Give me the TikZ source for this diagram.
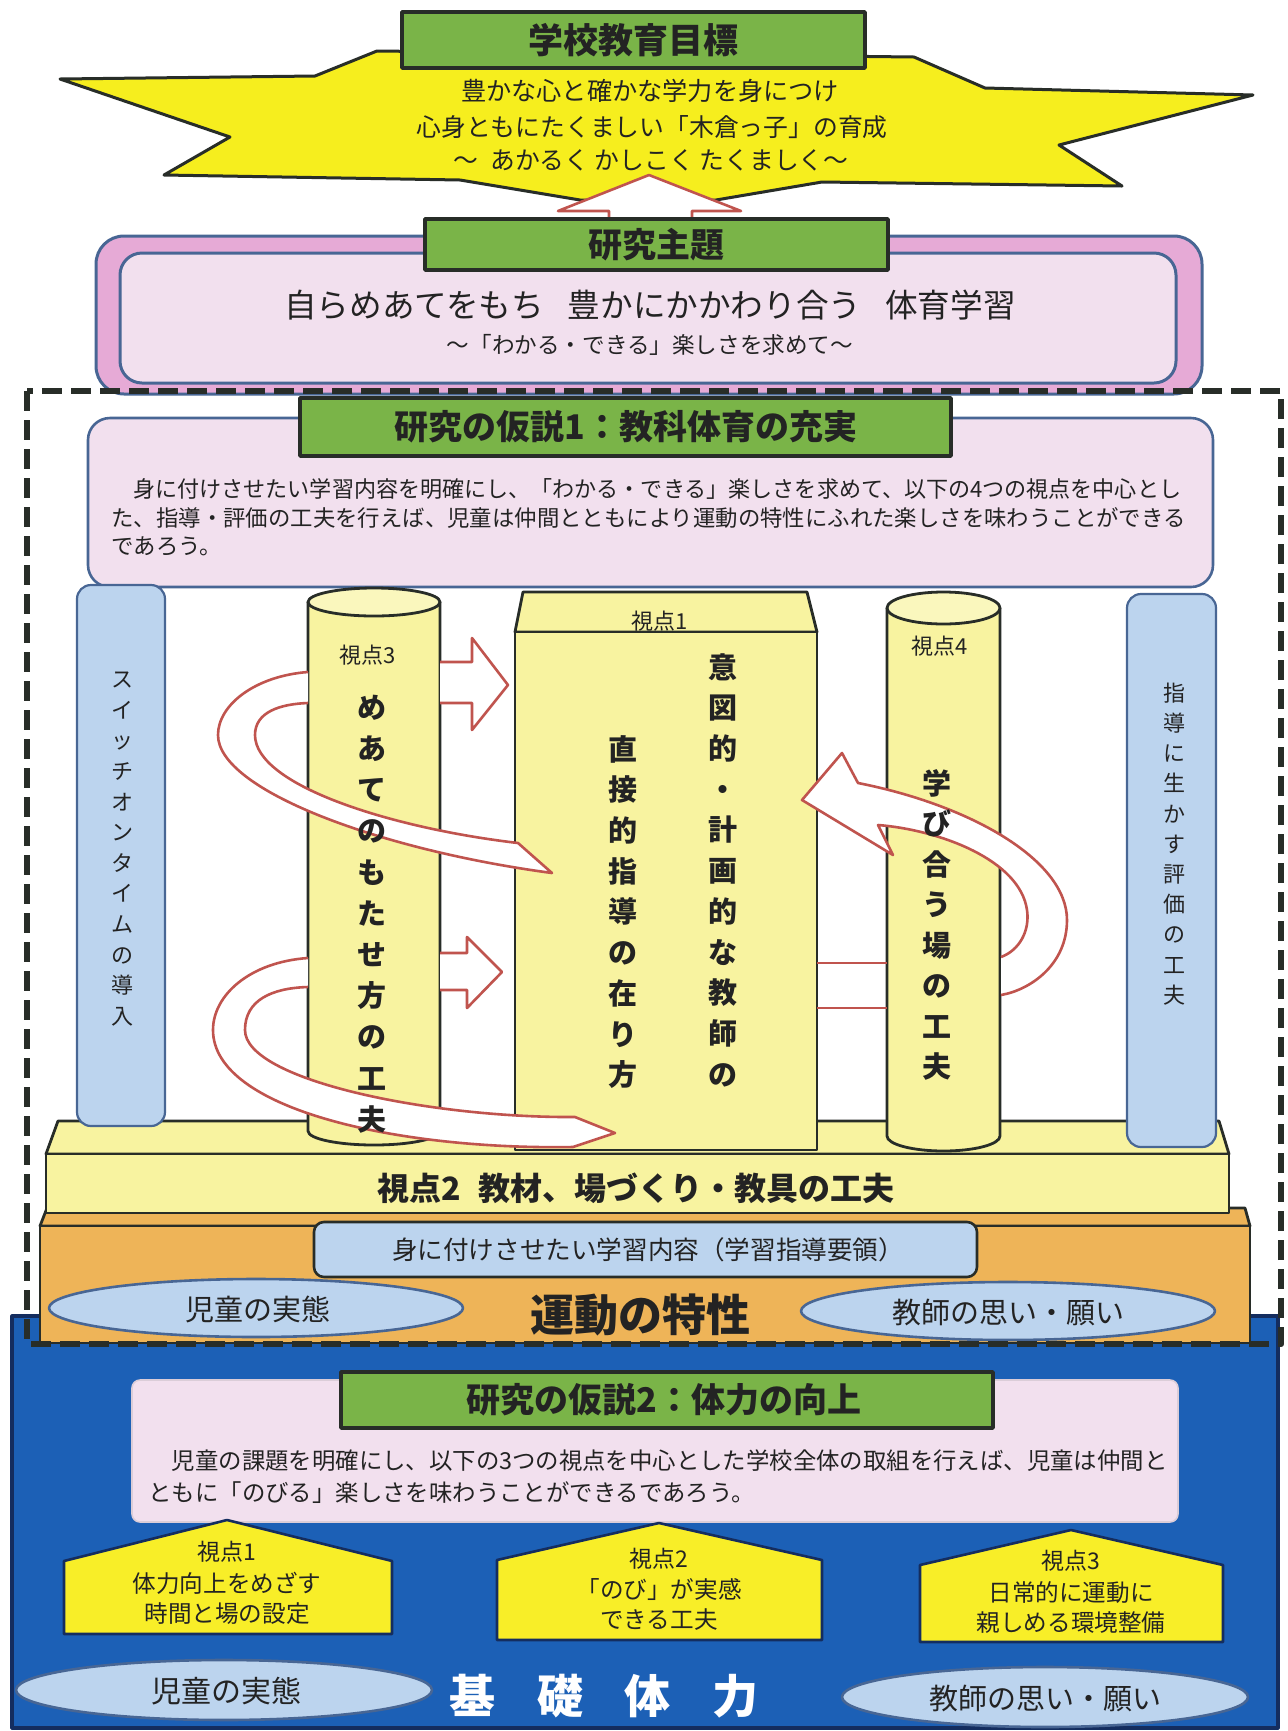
\documentclass[tikz,border=0pt]{standalone}
\usepackage{graphicx}
\usepackage{fontspec}
\setmainfont{Noto Sans CJK JP}
\definecolor{grn}{RGB}{122,180,72}
\definecolor{ylw}{RGB}{246,238,30}
\definecolor{lyl}{RGB}{248,243,160}
\definecolor{pnk}{RGB}{230,170,214}
\definecolor{lpk}{RGB}{242,224,238}
\definecolor{bgr}{RGB}{72,102,148}
\definecolor{lbl}{RGB}{188,212,238}
\definecolor{org}{RGB}{238,180,88}
\definecolor{blu}{RGB}{28,96,182}
\definecolor{nav}{RGB}{20,45,95}
\definecolor{arr}{RGB}{192,84,78}
\definecolor{dk}{RGB}{40,45,40}
\definecolor{txt}{RGB}{35,35,35}
\definecolor{hyl}{RGB}{248,238,40}
\newcommand{\fz}[1]{\fontsize{#1pt}{#1pt}\selectfont}
\newcommand{\vfz}[2]{\fontsize{#1pt}{#2pt}\selectfont}
\begin{document}
\begin{tikzpicture}[x=0.5pt,y=-0.5pt,line join=round,
  gbox/.style={fill=grn,draw=dk,line width=1.8pt},
  lbl/.style={text=txt,inner sep=0pt},
  vt/.style={text=txt,inner sep=0pt,align=center},
  solid3d/.style={fill=lyl,draw=dk,line width=1.4pt},
  pillar/.style={fill=lbl,draw=bgr,line width=1.1pt,rounded corners=7pt},
  arrline/.style={draw=arr,line width=1.3pt},
  oval/.style={fill=lbl,draw=bgr,line width=1.3pt},
  house/.style={fill=hyl,draw=nav,line width=1.3pt}]
\useasboundingbox (0,0) rectangle (1287,1731);
\fill[white] (0,0) rectangle (1287,1731);

% ---------- bottom blue base, orange block, slab ----------
\draw[fill=blu,draw=nav,line width=1.6pt] (12,1316) rectangle (1278,1728);
\draw[fill=org,draw=dk,line width=1.4pt] (47,1208) -- (1245,1208) -- (1250,1226) -- (40,1226) -- cycle;
\draw[fill=org,draw=dk,line width=1.4pt] (40,1226) rectangle (1250,1343);
\draw[solid3d] (58,1121) -- (1219,1121) -- (1229,1154) -- (46,1154) -- cycle;
\draw[solid3d] (46,1154) rectangle (1229,1213);

% ---------- theme boxes ----------
\draw[fill=pnk,draw=bgr,line width=1.5pt,rounded corners=14pt] (96,236) rectangle (1202,394);
\draw[fill=lpk,draw=bgr,line width=1.5pt,rounded corners=11pt] (120,253) rectangle (1176,383);

% ---------- star ----------
\draw[fill=ylw,draw=dk,line width=1.5pt] (60,79) -- (315,76) -- (377,51) -- (914,57) -- (985,88) -- (1253,95)
  -- (1059,145) -- (1122,186) -- (822,182) -- (716,200) -- (580,200) -- (460,180) -- (164,175) -- (230,137) -- cycle;
\filldraw[fill=white,arrline] (649,175) -- (741,211) -- (692,211) -- (692,224) -- (609,224) -- (609,211) -- (558,211) -- cycle;
\draw[gbox] (402,12) rectangle (865,68);
\node[lbl,font=\fz{17.5}\bfseries] (goal) at (633,40) {学校教育目標};
\node[lbl,font=\fz{12.6}] (g1) at (650,91) {豊かな心と確かな学力を身につけ};
\node[lbl,font=\fz{12.4}] (g2) at (652,127) {心身ともにたくましい「木倉っ子」の育成};
\node[lbl,font=\fz{12.4}] (g3) at (651,160) {～\hspace{6pt}あかるく かしこく たくましく～};

% ---------- research theme ----------
\draw[gbox] (425,219) rectangle (888,270);
\node[lbl,font=\fz{17}\bfseries] (thm) at (656,245) {研究主題};
\node[lbl,font=\fz{16.3}] (thm1) at (650,305) {自らめあてをもち\hspace{12pt}豊かにかかわり合う\hspace{12pt}体育学習};
\node[lbl,font=\fz{11.3}] (thm2) at (650,345) {～「わかる・できる」楽しさを求めて～};

% ---------- hypothesis 1 box ----------
\draw[fill=lpk,draw=bgr,line width=1.3pt,rounded corners=11pt] (88,418) rectangle (1213,587);

% ---------- pillars ----------
\draw[pillar] (77,585) rectangle (165,1126);
\draw[pillar] (1127,594) rectangle (1216,1147);

% ---------- left cylinder ----------
\fill[lyl] (308,602) -- (308,1131) arc[start angle=180,end angle=0,x radius=66,y radius=14] -- (440,602) -- cycle;
\draw[dk,line width=1.4pt] (308,602) -- (308,1131) arc[start angle=180,end angle=0,x radius=66,y radius=14] -- (440,602);
\draw[fill=lyl!70!white,draw=dk,line width=1.4pt] (374,602) ellipse[x radius=66,y radius=14];

% ---------- central box ----------
\draw[solid3d] (523,592) -- (807,592) -- (817,632) -- (515,632) -- cycle;
\draw[solid3d] (515,632) rectangle (817,1150);

% ---------- right cylinder ----------
\fill[lyl] (887,608) -- (887,1136) arc[start angle=180,end angle=0,x radius=56.5,y radius=15] -- (1000,608) -- cycle;
\draw[dk,line width=1.4pt] (887,608) -- (887,1136) arc[start angle=180,end angle=0,x radius=56.5,y radius=15] -- (1000,608);
\draw[fill=lyl!70!white,draw=dk,line width=1.4pt] (943.5,608) ellipse[x radius=56.5,y radius=16];

% ---------- straight arrows ----------
\filldraw[fill=white,arrline] (440,662) -- (472,662) -- (472,638) -- (508,685) -- (472,730) -- (472,703) -- (440,703);
\filldraw[fill=white,arrline] (440,953) -- (467,953) -- (467,937) -- (502,972) -- (467,1008) -- (467,990) -- (440,990);
\draw[arrline] (817,963) -- (887,963) (817,1008) -- (887,1008);

% ---------- curved arrows ----------
\filldraw[fill=white,arrline] (308,672) .. controls (255,676) and (218,705) .. (218,735)
  .. controls (218,790) and (380,850) .. (552,873) -- (518,843)
  .. controls (390,828) and (255,785) .. (255,735) .. controls (255,712) and (280,704) .. (308,703);
\filldraw[fill=white,arrline] (308,958) .. controls (250,962) and (213,995) .. (213,1030)
  .. controls (213,1110) and (400,1150) .. (573,1147) -- (615,1133) -- (575,1117)
  .. controls (430,1118) and (245,1080) .. (245,1030) .. controls (245,1000) and (272,988) .. (308,987);
\filldraw[fill=white,arrline] (1001,957) .. controls (1020,950) and (1030,930) .. (1027,910)
  .. controls (1020,860) and (940,830) .. (878,825) -- (893,855) -- (802,800) -- (842,753) -- (858,783)
  .. controls (970,805) and (1067,860) .. (1067,920) .. controls (1067,965) and (1030,990) .. (1001,995);

% ---------- labels of the columns ----------
\node[lbl,font=\fz{11}] (v3) at (368,655) {視点3};
\node[lbl,font=\fz{11}] (v1) at (660,621) {視点1};
\node[lbl,font=\fz{11}] (v4) at (940,646) {視点4};
\node[vt,font=\vfz{11}{15.3}] (sw) at (122,849) {ス\\イ\\ッ\\チ\\オ\\ン\\タ\\イ\\ム\\の\\導\\入};
\node[vt,font=\vfz{11}{15.1}] (ev) at (1174,844) {指\\導\\に\\生\\か\\す\\評\\価\\の\\工\\夫};
\node[vt,font=\vfz{14.5}{20.6}\bfseries] (c3) at (372,914) {め\\あ\\て\\の\\も\\た\\せ\\方\\の\\工\\夫};
\node[vt,font=\vfz{14.5}{20.35}\bfseries] (c1a) at (723,870) {意\\図\\的\\・\\計\\画\\的\\な\\教\\師\\の};
\node[vt,font=\vfz{14.5}{20.35}\bfseries] (c1b) at (623,912) {直\\接\\的\\指\\導\\の\\在\\り\\方};
\node[vt,font=\vfz{14.5}{20.25}\bfseries] (c4) at (937,925) {学\\び\\合\\う\\場\\の\\工\\夫};

% ---------- slab and orange texts ----------
\node[lbl,font=\fz{16}\bfseries] (v2) at (636,1188) {視点2\hspace{9pt}教材、場づくり・教具の工夫};
\draw[fill=lbl,draw=dk,line width=1.3pt,rounded corners=5pt] (314,1222) rectangle (977,1277);
\node[lbl,font=\fz{12.8}] (cont) at (648,1250) {身に付けさせたい学習内容（学習指導要領）};
\draw[oval] (256,1308) ellipse[x radius=207,y radius=29];
\draw[oval] (1008,1311) ellipse[x radius=207,y radius=29];
\node[lbl,font=\fz{14.5}] (ch1) at (258,1309) {児童の実態};
\node[lbl,font=\fz{14.5}] (tw1) at (1008,1312) {教師の思い・願い};
\node[lbl,font=\fz{22}\bfseries] (undo) at (640,1315) {運動の特性};

% ---------- dashed frame ----------
\draw[draw=dk,line width=3.2pt,dash pattern=on 10pt off 4.5pt] (27,391) rectangle (1281,1344);

% ---------- hypothesis 1 title and text ----------
\draw[gbox] (300,398) rectangle (951,456);
\node[lbl,font=\fz{17}\bfseries] (h1) at (626,427) {研究の仮説1：教科体育の充実};
\node[lbl,font=\fz{11.2},anchor=west] (h1a) at (111,489) {\scalebox{0.985}[1]{　身に付けさせたい学習内容を明確にし、「わかる・できる」楽しさを求めて、以下の4つの視点を中心とし}};
\node[lbl,font=\fz{11.2},anchor=west] (h1b) at (111,518) {た、指導・評価の工夫を行えば、児童は仲間とともにより運動の特性にふれた楽しさを味わうことができる};
\node[lbl,font=\fz{11.2},anchor=west] (h1c) at (111,546) {であろう。};

% ---------- hypothesis 2 ----------
\draw[fill=lpk,draw=lpk!80!gray,line width=0.8pt,rounded corners=4pt] (132,1380) rectangle (1178,1522);
\draw[gbox] (341,1372) rectangle (993,1428);
\node[lbl,font=\fz{17}\bfseries] (h2) at (664,1400) {研究の仮説2：体力の向上};
\node[lbl,font=\fz{11.7},anchor=west] (h2a) at (148,1461) {　児童の課題を明確にし、以下の3つの視点を中心とした学校全体の取組を行えば、児童は仲間と};
\node[lbl,font=\fz{11.7},anchor=west] (h2b) at (148,1493) {ともに「のびる」楽しさを味わうことができるであろう。};

% ---------- houses ----------
\draw[house] (64,1561) -- (227,1520) -- (392,1561) -- (392,1634) -- (64,1634) -- cycle;
\draw[house] (497,1560) -- (659,1523) -- (822,1560) -- (822,1640) -- (497,1640) -- cycle;
\draw[house] (920,1565) -- (1071,1530) -- (1223,1565) -- (1223,1642) -- (920,1642) -- cycle;
\node[lbl,font=\fz{11.5}] (p1a) at (227,1552) {視点1};
\node[lbl,font=\fz{11.8}] (p1b) at (227,1583) {体力向上をめざす};
\node[lbl,font=\fz{11.8}] (p1c) at (227,1614) {時間と場の設定};
\node[lbl,font=\fz{11.5}] (p2a) at (659,1559) {視点2};
\node[lbl,font=\fz{11.8}] (p2b) at (659,1590) {「のび」が実感};
\node[lbl,font=\fz{11.8}] (p2c) at (659,1620) {できる工夫};
\node[lbl,font=\fz{11.5}] (p3a) at (1071,1561) {視点3};
\node[lbl,font=\fz{11.8}] (p3b) at (1071,1593) {日常的に運動に};
\node[lbl,font=\fz{11.8}] (p3c) at (1071,1623) {親しめる環境整備};

% ---------- bottom ovals ----------
\draw[oval] (224,1690) ellipse[x radius=208,y radius=30];
\draw[oval] (1045,1697) ellipse[x radius=203,y radius=30];
\node[lbl,font=\fz{15}] (ch2) at (226,1691) {児童の実態};
\node[lbl,font=\fz{14.5}] (tw2) at (1045,1698) {教師の思い・願い};
\node[inner sep=0pt,text=white,font=\fz{23}\bfseries] (kiso) at (604,1696) {基\hspace{21pt}礎\hspace{21pt}体\hspace{21pt}力};
\end{tikzpicture}
\end{document}
